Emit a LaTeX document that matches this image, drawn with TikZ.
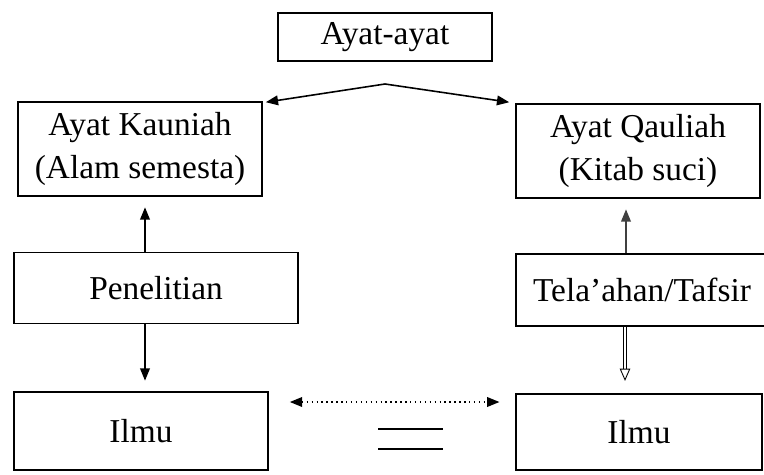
\documentclass[tikz,border=0pt]{standalone}
\usepackage{fontspec}
\setmainfont{Liberation Serif}
\usepackage{tikz}
\usetikzlibrary{arrows.meta,calc,positioning}

\begin{document}
\begin{tikzpicture}[x=0.02cm, y=-0.02cm,
        kotak/.style={draw, line width=0.9pt, align=center, inner sep=0pt,
                      font=\fontsize{19}{25}\selectfont},
        panah/.style={line width=0.9pt, -{Triangle[length=7pt,width=5.5pt]}}]
            \path[use as bounding box] (0,0) rectangle (764,474);

            \node[kotak, minimum width=4.28cm, minimum height=0.96cm] (ayat) at (385,37) {Ayat-ayat};
            \node[kotak, minimum width=4.88cm, minimum height=1.88cm] (kauniah) at (140,149) {Ayat Kauniah\\(Alam semesta)};
            \node[kotak, minimum width=4.88cm, minimum height=1.88cm] (qauliah) at (638,151) {Ayat Qauliah\\(Kitab suci)};
            \node[kotak, minimum width=5.68cm, minimum height=1.42cm] (teliti) at (156,288) {Penelitian};
            \node[kotak, minimum width=5.04cm, minimum height=1.44cm] (tafsir) at (642,290) {Tela'ahan/Tafsir};
            \node[kotak, minimum width=5.08cm, minimum height=1.56cm] (ilmukiri) at (141,431) {Ilmu};
            \node[kotak, minimum width=4.92cm, minimum height=1.52cm] (ilmukanan) at (639,432) {Ilmu};

            \coordinate (puncak) at (385,84);
            \draw[panah] (puncak) -- ($(kauniah.north east)+(3,1)$);
            \draw[panah] (puncak) -- ($(qauliah.north west)+(-6,-1)$);

            \draw[panah, shorten >=6pt] (teliti.north -| 145,0) -- (kauniah.south -| 145,0);
            \draw[panah, shorten >=6pt] (teliti.south -| 145,0) -- (ilmukiri.north -| 145,0);

            \draw[panah, black!75, shorten >=6pt] (tafsir.north -| 626,0) -- (qauliah.south -| 626,0);
            \draw[line width=0.5pt, double distance=1.2pt, -{Triangle[open,length=7pt,width=6pt]}, shorten >=7pt]
                (tafsir.south -| 625,0) -- (ilmukanan.north -| 625,0);

            \draw[line width=0.8pt, dotted, {Triangle[length=7pt,width=5.5pt]}-{Triangle[length=7pt,width=5.5pt]},
                  shorten <=12pt, shorten >=9pt]
                (ilmukiri.east |- 0,402) -- (ilmukanan.west |- 0,402);

            \draw[line width=0.9pt] (378,429) -- (443,429)
                                    (378,449) -- (443,449);
        \end{tikzpicture}
\end{document}
